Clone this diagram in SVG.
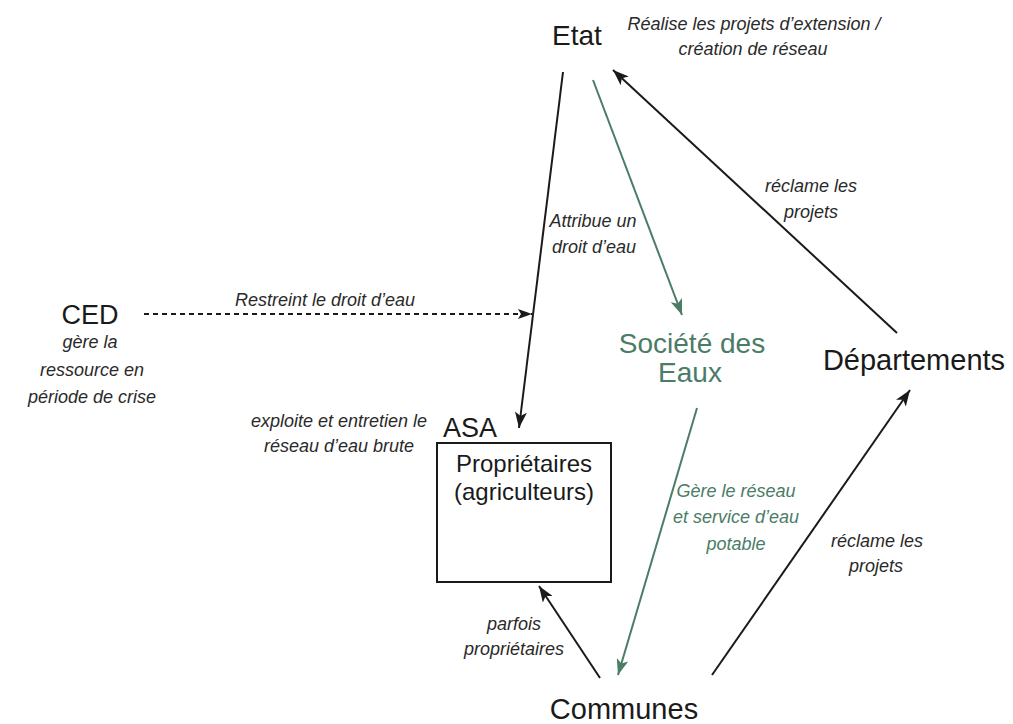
<svg xmlns="http://www.w3.org/2000/svg" width="1013" height="724" viewBox="0 0 1013 724">
<style>
.n{font-family:"Liberation Sans",Arial,sans-serif;fill:#1a1a1a;text-anchor:middle}
.l{font-family:"Liberation Sans",Arial,sans-serif;font-style:italic;font-size:18px;fill:#2a2a2a;text-anchor:middle}
.g{fill:#4a7c66}
.k{stroke:#1a1a1a;stroke-width:2;fill:none}
.gl{stroke:#4a7c66;stroke-width:2;fill:none}
</style>
<defs>
<marker id="ak" viewBox="0 0 16 12" refX="16" refY="6" markerWidth="16" markerHeight="12" markerUnits="userSpaceOnUse" orient="auto">
<path d="M0,0 L16,6 L0,12 L4,6 Z" fill="#1a1a1a"/>
</marker>
<marker id="ag" viewBox="0 0 16 12" refX="16" refY="6" markerWidth="16" markerHeight="12" markerUnits="userSpaceOnUse" orient="auto">
<path d="M0,0 L16,6 L0,12 L4,6 Z" fill="#4a7c66"/>
</marker>
<marker id="ad" viewBox="0 0 14 10" refX="14" refY="5" markerWidth="14" markerHeight="10" markerUnits="userSpaceOnUse" orient="auto">
<path d="M0,0 L14,5 L0,10 L3,5 Z" fill="#1a1a1a"/>
</marker>
</defs>
<g id="connectors">
<line class="k" x1="563" y1="72" x2="519" y2="428" marker-end="url(#ak)"/>
<line class="gl" x1="593" y1="80" x2="682" y2="315" marker-end="url(#ag)"/>
<line class="k" x1="897" y1="333" x2="613" y2="70" marker-end="url(#ak)"/>
<line class="k" x1="144" y1="314" x2="532" y2="314" stroke-width="1.6" stroke-dasharray="5,4" marker-end="url(#ad)"/>
<line class="gl" x1="697" y1="408" x2="618" y2="675" marker-end="url(#ag)"/>
<line class="k" x1="712" y1="675" x2="910" y2="390" marker-end="url(#ak)"/>
<line class="k" x1="600" y1="678" x2="539" y2="586" marker-end="url(#ak)"/>
<text class="l" x="754" y="30">Réalise les projets d’extension /</text>
<text class="l" x="753" y="55">création de réseau</text>
<text class="l" x="593" y="227">Attribue un</text>
<text class="l" x="594" y="253">droit d’eau</text>
<text class="l" x="811" y="192">réclame les</text>
<text class="l" x="811" y="218">projets</text>
<text class="l" x="325" y="306">Restreint le droit d’eau</text>
<text class="l" x="339" y="427">exploite et entretien le</text>
<text class="l" x="339" y="452">réseau d’eau brute</text>
<text class="l g" x="736" y="497">Gère le réseau</text>
<text class="l g" x="736" y="523">et service d’eau</text>
<text class="l g" x="736" y="550">potable</text>
<text class="l" x="877" y="547">réclame les</text>
<text class="l" x="876" y="572">projets</text>
<text class="l" x="514" y="630">parfois</text>
<text class="l" x="514" y="655">propriétaires</text>
</g>
<g id="etat"><text class="n" x="577" y="45" font-size="28">Etat</text></g>
<g id="ced">
<text class="n" x="90" y="324" font-size="27">CED</text>
<text class="l" x="90" y="348">gère la</text>
<text class="l" x="92" y="376">ressource en</text>
<text class="l" x="92" y="403">période de crise</text>
</g>
<g id="societe">
<text class="n g" x="692" y="353" font-size="28">Société des</text>
<text class="n g" x="690" y="382" font-size="28">Eaux</text>
</g>
<g id="departements"><text class="n" x="914" y="370" font-size="29">Départements</text></g>
<g id="asa">
<text class="n" x="443" y="437" font-size="27" text-anchor="start" style="text-anchor:start">ASA</text>
<rect x="437" y="443" width="174" height="139" fill="#fff" stroke="#1a1a1a" stroke-width="2"/>
<text class="n" x="524" y="472" font-size="24">Propriétaires</text>
<text class="n" x="524" y="500" font-size="24">(agriculteurs)</text>
</g>
<g id="communes"><text class="n" x="624" y="719" font-size="29">Communes</text></g>
</svg>
